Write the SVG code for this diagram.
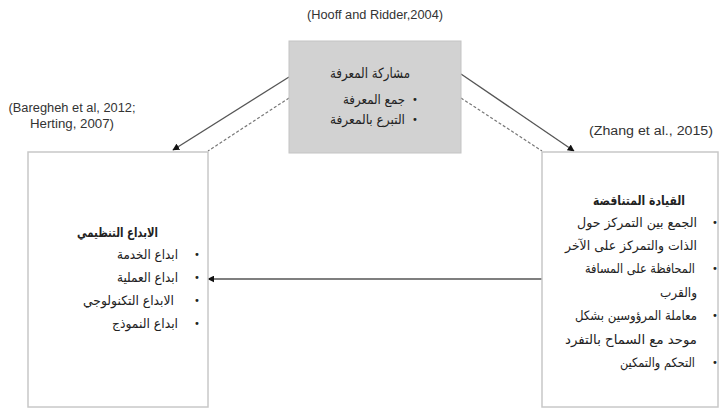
<svg xmlns="http://www.w3.org/2000/svg" width="719" height="409" viewBox="0 0 719 409">
<defs>
<style>
.ref{font-family:"Liberation Sans","DejaVu Sans",sans-serif;font-size:12.5px;fill:#333}
.ar{font-family:"DejaVu Sans","Noto Sans",sans-serif;font-size:13px;fill:#222;text-anchor:end}
.arb{font-family:"DejaVu Sans","Noto Sans",sans-serif;font-size:13px;font-weight:bold;fill:#222;text-anchor:end}
.bul{font-family:"DejaVu Sans",sans-serif;font-size:10px;fill:#222;text-anchor:middle}
.box{fill:#fff;stroke:#c8c8c8;stroke-width:1.5}
.solid{stroke:#555;stroke-width:1.3;fill:none}
.dash{stroke:#777;stroke-width:1.2;fill:none;stroke-dasharray:3 2}
</style>
<marker id="ah" viewBox="0 0 10 10" refX="9" refY="5" markerWidth="7" markerHeight="7" orient="auto" markerUnits="userSpaceOnUse">
<path d="M0,0 L10,5 L0,10 z" fill="#111"/>
</marker>
</defs>
<rect width="719" height="409" fill="#fff"/>
<text class="ref" x="375" y="19" text-anchor="middle" textLength="136" lengthAdjust="spacingAndGlyphs">(Hooff and Ridder,2004)</text>
<text class="ref" x="72" y="112" text-anchor="middle" textLength="127" lengthAdjust="spacingAndGlyphs">(Baregheh et al, 2012;</text>
<text class="ref" x="72" y="128" text-anchor="middle" textLength="84" lengthAdjust="spacingAndGlyphs">Herting, 2007)</text>
<text class="ref" x="651" y="135" text-anchor="middle" textLength="124" lengthAdjust="spacingAndGlyphs">(Zhang et al., 2015)</text>

<g id="connectors">
<line class="solid" x1="289" y1="77" x2="173" y2="150" marker-end="url(#ah)"/>
<line class="dash" x1="289" y1="98" x2="208" y2="151"/>
<line class="solid" x1="461" y1="74" x2="574" y2="151" marker-end="url(#ah)"/>
<line class="dash" x1="461" y1="98" x2="542" y2="151"/>
<line class="solid" x1="542" y1="279" x2="208" y2="279" marker-end="url(#ah)"/>
</g>

<g id="knowledge-sharing">
<rect x="289" y="41" width="172" height="112" fill="#d2d2d2" stroke="#c4c4c4" stroke-width="1"/>
<text class="ar" x="410" y="78" style="font-size:14px" textLength="80" lengthAdjust="spacingAndGlyphs">مشاركة المعرفة</text>
<text class="bul" x="415" y="103">•</text>
<text class="ar" x="405" y="104" textLength="62" lengthAdjust="spacingAndGlyphs">جمع المعرفة</text>
<text class="bul" x="415" y="123">•</text>
<text class="ar" x="405" y="124" textLength="75" lengthAdjust="spacingAndGlyphs">التبرع بالمعرفة</text>
</g>

<g id="org-innovation">
<rect class="box" x="28" y="152" width="180" height="255"/>
<text class="arb" x="158" y="237" textLength="81" lengthAdjust="spacingAndGlyphs">الابداع التنظيمي</text>
<text class="bul" x="197" y="258">•</text>
<text class="ar" x="178" y="259" textLength="61" lengthAdjust="spacingAndGlyphs">ابداع الخدمة</text>
<text class="bul" x="197" y="281">•</text>
<text class="ar" x="178" y="282" textLength="61" lengthAdjust="spacingAndGlyphs">ابداع العملية</text>
<text class="bul" x="197" y="304">•</text>
<text class="ar" x="174" y="305" textLength="91" lengthAdjust="spacingAndGlyphs">الابداع التكنولوجي</text>
<text class="bul" x="197" y="327">•</text>
<text class="ar" x="178" y="328" textLength="66" lengthAdjust="spacingAndGlyphs">ابداع النموذج</text>
</g>

<g id="paradoxical-leadership">
<rect class="box" x="542" y="152" width="176" height="255"/>
<text class="arb" x="685" y="205" textLength="92" lengthAdjust="spacingAndGlyphs">القيادة المتناقضة</text>
<text class="bul" x="715" y="226">•</text>
<text class="ar" x="697" y="227" textLength="120" lengthAdjust="spacingAndGlyphs">الجمع بين التمركز حول</text>
<text class="ar" x="697" y="250" textLength="132" lengthAdjust="spacingAndGlyphs">الذات والتمركز على الآخر</text>
<text class="bul" x="715" y="272">•</text>
<text class="ar" x="695" y="273" textLength="110" lengthAdjust="spacingAndGlyphs">المحافظة على المسافة</text>
<text class="ar" x="697" y="297" textLength="37" lengthAdjust="spacingAndGlyphs">والقرب</text>
<text class="bul" x="715" y="319">•</text>
<text class="ar" x="697" y="320" textLength="122" lengthAdjust="spacingAndGlyphs">معاملة المرؤوسين بشكل</text>
<text class="ar" x="697" y="344" textLength="132" lengthAdjust="spacingAndGlyphs">موحد مع السماح بالتفرد</text>
<text class="bul" x="715" y="366">•</text>
<text class="ar" x="695" y="367" textLength="75" lengthAdjust="spacingAndGlyphs">التحكم والتمكين</text>
</g>
</svg>
